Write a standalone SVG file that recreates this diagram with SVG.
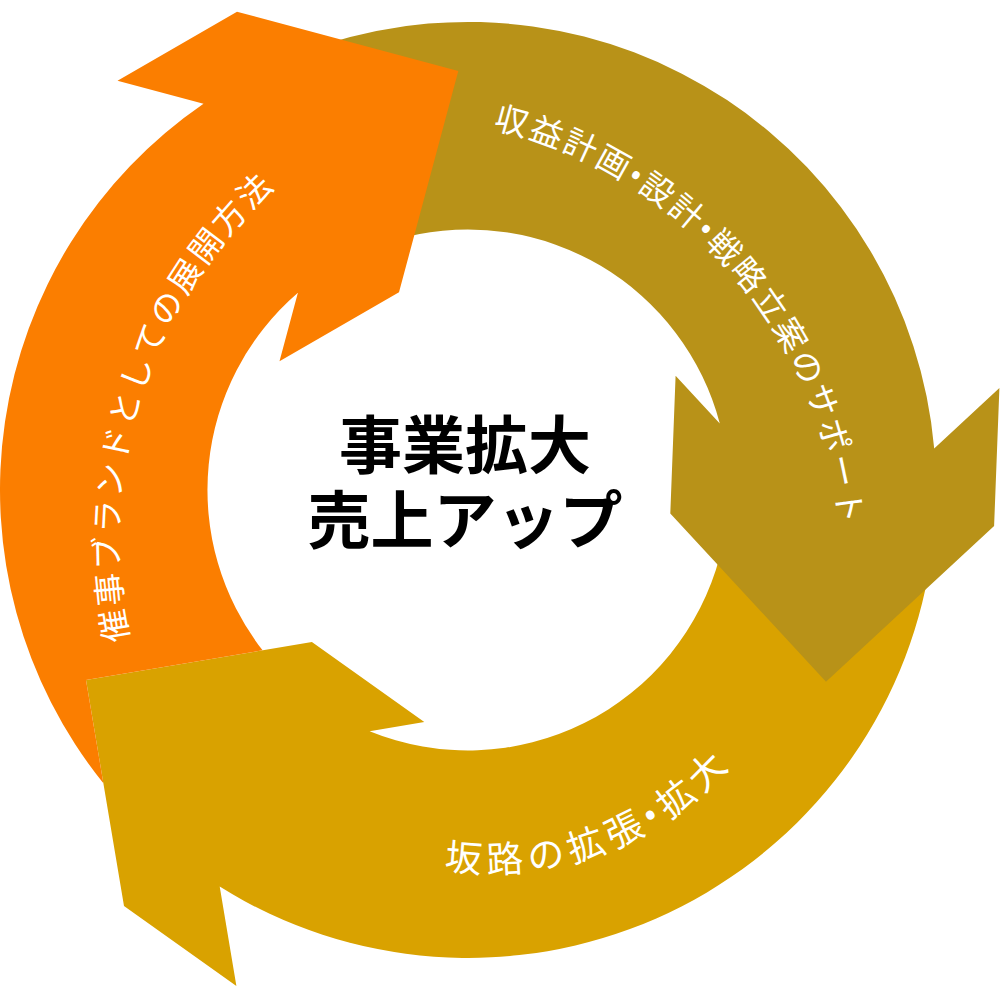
<svg xmlns="http://www.w3.org/2000/svg" width="1000" height="1000" viewBox="0 0 1000 1000">
<style>
.arrow-orange{fill:#FB7E00}
.arrow-olive{fill:#B89218}
.arrow-gold{fill:#D9A200}
.label{fill:#FFFFFF;font-family:"Noto Sans","Noto Sans CJK JP",sans-serif;font-weight:400}
.title{fill:#000000;font-family:"Noto Sans CJK JP","Noto Sans",sans-serif;font-weight:700;font-size:63px;text-anchor:middle}
</style>
<defs>
<path id="tp-brand" d="M 171 757.6 A 477 477 0 0 1 379.4 116"/>
<path id="tp-plan" d="M 422.4 118.1 A 450 450 0 0 1 839.9 598.4"/>
<path id="tp-road" d="M 333.5 830.8 A 319 319 0 0 0 792.1 662"/>
</defs>
<rect width="1000" height="1000" fill="#FFFFFF"/>
<g id="step-road">
<path class="arrow-gold" d="M 928.2 575.3 A 468 468 0 0 1 219.7 886.6 L 236.4 986 L 124 905.9 L 86 680 L 311.9 642 L 424.3 722 L 369.6 731.2 A 260.5 260.5 0 0 0 719.8 556.5 L 826.1 678.7 Z"/>
</g>
<g id="step-plan">
<path class="arrow-olive" d="M 325.7 44.1 A 468 468 0 0 1 934.2 448.4 L 999.4 388.1 L 994.1 526 L 826 681.7 L 670.3 513.6 L 675.6 375.7 L 719.8 423.4 A 260.5 260.5 0 0 0 405.4 237.1 L 455.7 72.5 Z"/>
</g>
<g id="step-brand">
<path class="arrow-orange" d="M 103.4 783.3 A 468 468 0 0 1 203.5 103.8 L 117.5 80.7 L 237 11.7 L 458.3 71 L 399 292.3 L 279.5 361.3 L 297.9 292.7 A 260.5 260.5 0 0 0 262.6 650.3 L 86 680 Z"/>
</g>
<g id="labels">
<text id="label-brand" class="label" font-size="33" letter-spacing="2.7"><textPath href="#tp-brand" startOffset="50%" text-anchor="middle">催事ブランドとしての展開方法</textPath></text>
<text id="label-plan" class="label" font-size="33" letter-spacing="2.6"><textPath href="#tp-plan" startOffset="50%" text-anchor="middle">収益計画•設計•戦略立案のサポート</textPath></text>
<text id="label-road" class="label" font-size="37" letter-spacing="6"><textPath href="#tp-road" startOffset="50%" text-anchor="middle">坂路の拡張•拡大</textPath></text>
</g>
<g id="center">
<text class="title" x="465" y="468"><tspan x="465" y="468">事業拡大</tspan><tspan x="465" y="543">売上アップ</tspan></text>
</g>
</svg>
